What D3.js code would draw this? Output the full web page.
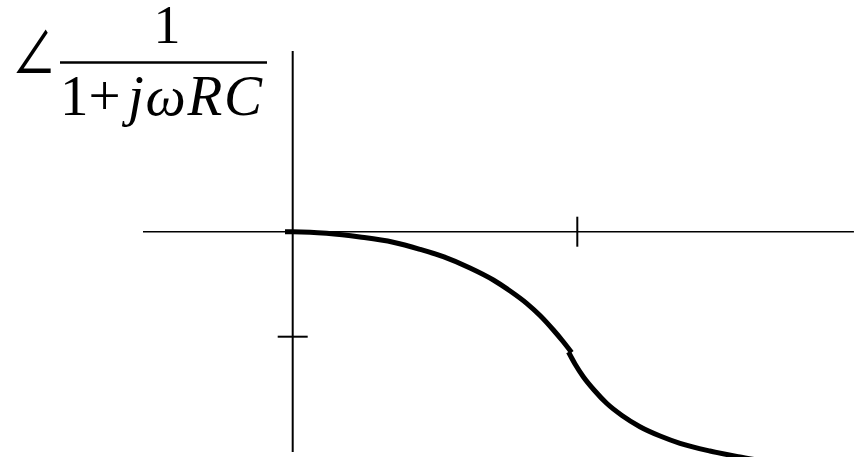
<!DOCTYPE html>
<html>
<head>
<meta charset="utf-8">
<script src="https://cdn.jsdelivr.net/npm/d3@7"></script>
<style>
  html, body { margin: 0; padding: 0; background: #fff; }
  svg { display: block; }
</style>
</head>
<body>
<svg id="chart" width="854" height="457"></svg>
<script>
// Phase sketch of 1/(1 + jωRC): ω in units of 1/RC, phase in degrees.
const omegaLow  = [-0.027, 0, 0.061, 0.119, 0.236, 0.353, 0.447, 0.529, 0.623, 0.705, 0.764, 0.822, 0.869, 0.916, 0.950, 0.980];
const phaseLow  = [0, 0, -0.21, -0.69, -2.27, -4.50, -7.54, -10.71, -15.56, -20.70, -25.41, -30.69, -35.91, -42.13, -47.06, -51.77];
const omegaHigh = [0.969, 0.992, 1.021, 1.062, 1.103, 1.157, 1.220, 1.291, 1.361, 1.466, 1.566, 1.642];
const phaseHigh = [-51.56, -56.70, -62.14, -68.27, -73.54, -78.77, -83.57, -87.56, -90.69, -93.99, -96.43, -98.06];

// Axis extents and tick positions
const omegaAxis = [-0.526, 1.972];
const phaseAxis = [-94.4, 77.4];
const omegaTicks = [1];
const phaseTicks = [-45];

const svg = d3.select("#chart");

const x = d3.scaleLinear().domain([0, 1]).range([292.7, 577.3]);
const y = d3.scaleLinear().domain([0, -45]).range([231.7, 336.7]);

// Horizontal (ω) axis
svg.append("line")
  .attr("x1", x(omegaAxis[0])).attr("x2", x(omegaAxis[1]))
  .attr("y1", y(0)).attr("y2", y(0))
  .attr("stroke", "#000").attr("stroke-width", 1.6);

// Vertical (phase) axis
svg.append("line")
  .attr("x1", x(0)).attr("x2", x(0))
  .attr("y1", y(phaseAxis[1])).attr("y2", y(phaseAxis[0]))
  .attr("stroke", "#000").attr("stroke-width", 2);

// Tick marks crossing each axis
svg.selectAll(".xtick").data(omegaTicks).join("line")
  .attr("class", "xtick")
  .attr("x1", d => x(d)).attr("x2", d => x(d))
  .attr("y1", y(0) - 15).attr("y2", y(0) + 15)
  .attr("stroke", "#000").attr("stroke-width", 2);

svg.selectAll(".ytick").data(phaseTicks).join("line")
  .attr("class", "ytick")
  .attr("x1", x(0) - 15).attr("x2", x(0) + 15)
  .attr("y1", d => y(d)).attr("y2", d => y(d))
  .attr("stroke", "#000").attr("stroke-width", 2);

// Phase curve, drawn as two strokes meeting near ω = 1/RC
const line = d3.line().x(d => x(d[0])).y(d => y(d[1])).curve(d3.curveMonotoneX);
[[omegaLow, phaseLow], [omegaHigh, phaseHigh]].forEach(([w, p]) => {
  svg.append("path")
    .datum(w.map((v, i) => [v, p[i]]))
    .attr("d", line)
    .attr("fill", "none")
    .attr("stroke", "#000")
    .attr("stroke-width", 5);
});

// Axis title: ∠ 1/(1 + jωRC)
const title = svg.append("g").attr("font-family", "'Liberation Serif', 'Times New Roman', serif").attr("fill", "#000");
title.append("text")
  .attr("transform", "translate(0,71.5) scale(1,1.45)")
  .attr("x", 12).attr("y", 2)
  .attr("font-family", "'Noto Sans CJK JP', 'DejaVu Sans', sans-serif")
  .attr("font-size", 44)
  .text("∠");
title.append("text")
  .attr("x", 167).attr("y", 43)
  .attr("text-anchor", "middle")
  .attr("font-size", 54)
  .text("1");
title.append("line")
  .attr("x1", 60).attr("x2", 267)
  .attr("y1", 62.5).attr("y2", 62.5)
  .attr("stroke", "#000").attr("stroke-width", 2.5);
const den = title.append("text").attr("y", 115).attr("font-size", 57);
den.append("tspan").attr("x", 60).text("1+");
den.append("tspan").attr("x", 128).attr("font-style", "italic")
  .attr("textLength", 134).attr("lengthAdjust", "spacing").text("jωRC");
</script>
</body>
</html>
